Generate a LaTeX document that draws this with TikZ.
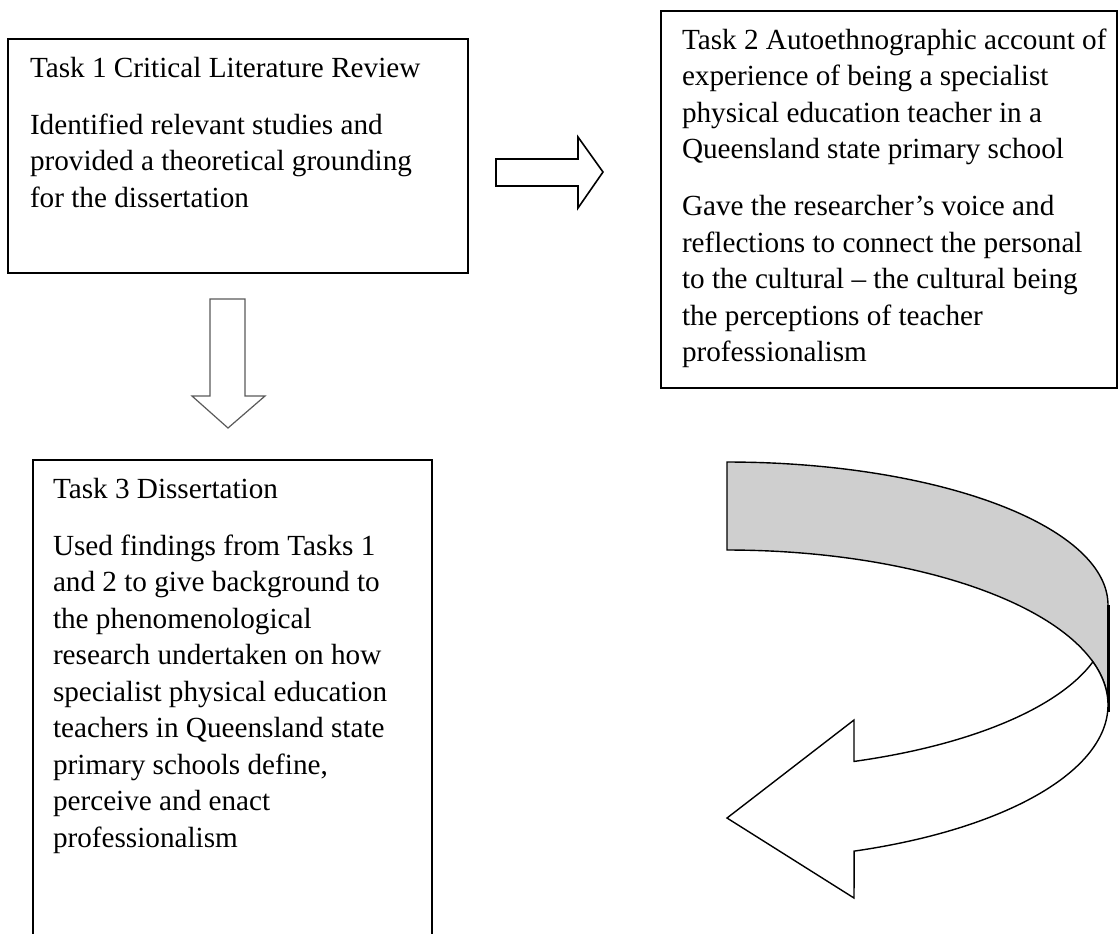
\documentclass[tikz,border=0pt]{standalone}
\usepackage{fontspec}
\setmainfont{Liberation Serif}
\definecolor{bandgrey}{RGB}{207,207,207}
\definecolor{arrowgrey}{RGB}{90,90,90}
\tikzset{
  taskbox/.style={draw=black, fill=none, inner sep=0pt, outer sep=0pt},
  tasktext/.style={anchor=north west, inner sep=0pt, outer sep=0pt, align=left,
    font=\fontsize{14.6pt}{18.25pt}\selectfont, text=black},
  blockarrow/.style={draw=black, fill=white, line join=miter},
  curvedband/.style={draw=black, line width=0.7pt, line join=miter}
}
\newcommand{\firstline}{\rule{0pt}{19pt}}
\begin{document}
\begin{tikzpicture}[x=0.5pt,y=-0.5pt]
\useasboundingbox (0,0) rectangle (1118,933);
\clip (0,0) rectangle (1118,933);
\fill[white] (0,0) rectangle (1118,933);

% Task boxes
\node[taskbox, line width=1pt, minimum width=230pt, minimum height=117pt] (b1) at (238,156) {};
\node[taskbox, line width=0.9pt, minimum width=228pt, minimum height=188.5pt] (b2) at (889,199.5) {};
\node[taskbox, line width=0.7pt, minimum width=199.5pt, minimum height=240pt] (b3) at (232.5,700) {};

% Texts
\node[tasktext] (t1) at (30,39) {\firstline Task 1 Critical Literature Review\\[10.25pt]
Identified relevant studies and\\
provided a theoretical grounding\\
for the dissertation};

\node[tasktext] (t2) at (682,11) {\firstline Task 2 Autoethnographic account of\\
experience of being a specialist\\
physical education teacher in a\\
Queensland state primary school\\[10.25pt]
Gave the researcher’s voice and\\
reflections to connect the personal\\
to the cultural – the cultural being\\
the perceptions of teacher\\
professionalism};

\node[tasktext] (t3) at (53,460) {\firstline Task 3 Dissertation\\[10.25pt]
Used findings from Tasks 1\\
and 2 to give background to\\
the phenomenological\\
research undertaken on how\\
specialist physical education\\
teachers in Queensland state\\
primary schools define,\\
perceive and enact\\
professionalism};

% Right block arrow
\draw[blockarrow, line width=0.8pt] (496,159) -- (578,159) -- (578,137) -- (603,172)
  -- (578,208) -- (578,186) -- (496,186) -- cycle;

% Down block arrow
\draw[blockarrow, draw=arrowgrey, line width=0.6pt] (210,299) -- (245,299) -- (245,396)
  -- (265,396) -- (228,428) -- (192,396) -- (210,396) -- cycle;

% Curved arrow: back band (grey)
\filldraw[curvedband, fill=bandgrey] (727,550) -- (727,462)
  -- plot[domain=-90:0, samples=80, variable=\t] ({727+381*cos(\t)},{605+143*sin(\t)})
  -- (1108,705)
  -- plot[domain=0:-90, samples=80, variable=\t] ({727+381*cos(\t)},{705+155*sin(\t)})
  -- cycle;
\draw[line width=1.3pt] (1108.5,605) -- (1108.5,712);

% Curved arrow: front band with head (white)
\filldraw[curvedband, fill=white] (854,720) -- (854,761.4)
  -- plot[domain=70.5:16.2, samples=80, variable=\t] ({727+381*cos(\t)},{620+150*sin(\t)})
  -- plot[domain=-16.2:70.5, samples=80, variable=\t] ({727+381*cos(\t)},{705+155*sin(\t)})
  -- (854,898) -- (727,818) -- cycle;
\end{tikzpicture}
\end{document}
